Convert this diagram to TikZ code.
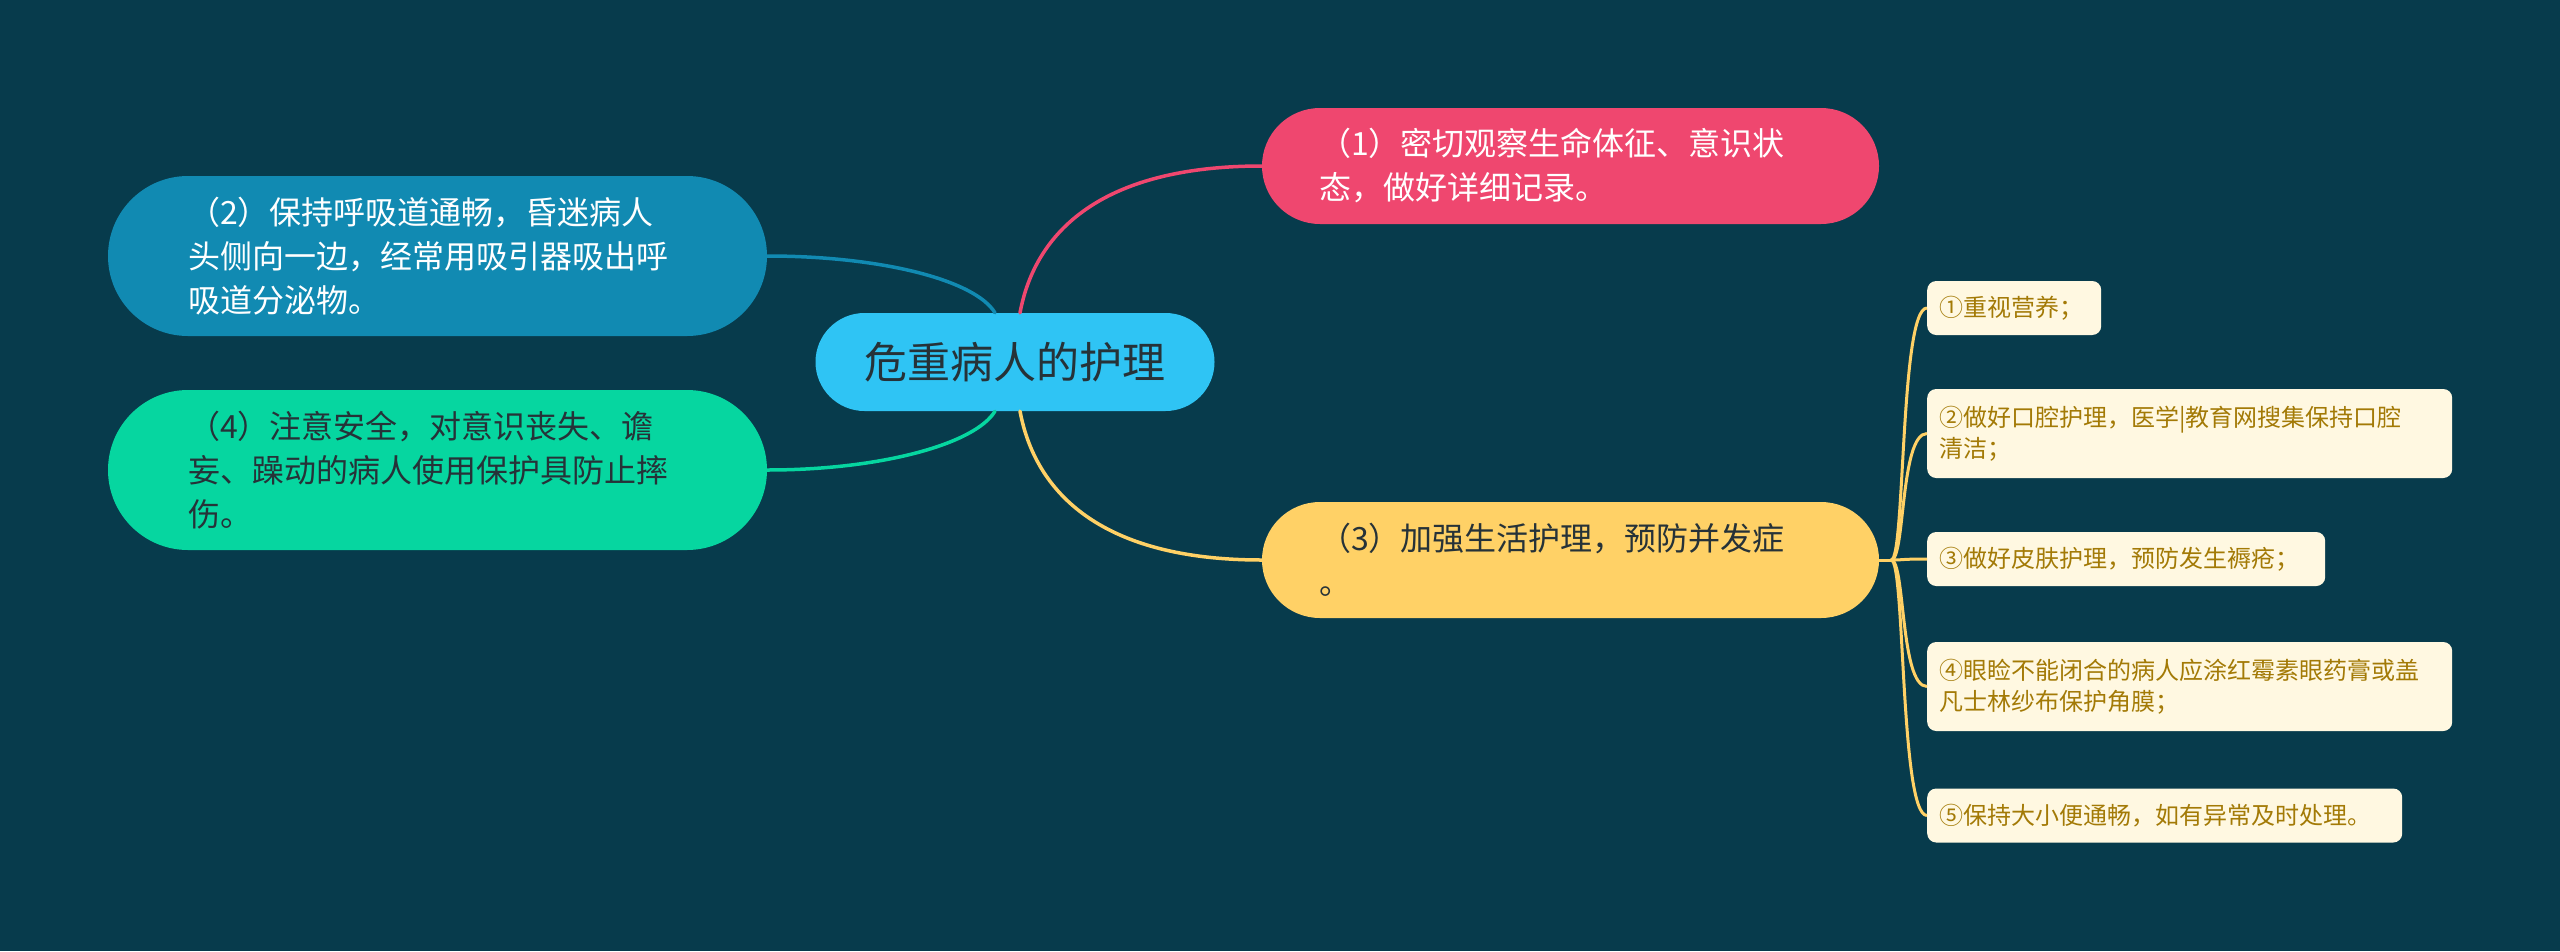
\documentclass[tikz,border=0pt]{standalone}
\usepackage{fontspec}
\setmainfont{Noto Sans CJK SC}
\usetikzlibrary{calc}

\definecolor{bgcol}{HTML}{073B4C}
\definecolor{hubcol}{HTML}{2FC4F4}
\definecolor{pinkcol}{HTML}{EF476F}
\definecolor{bluecol}{HTML}{118AB2}
\definecolor{greencol}{HTML}{06D6A0}
\definecolor{yellowcol}{HTML}{FFD166}
\definecolor{leaffill}{HTML}{FFF8E1}
\definecolor{leaftext}{HTML}{A37A06}
\definecolor{darktext}{HTML}{263238}

\begin{document}
\begin{tikzpicture}[x=1pt, y=-1pt,
	hub/.style={fill=hubcol, text=darktext, rounded corners=49pt, minimum width=399pt, minimum height=98pt, font=\fontsize{43}{50}\selectfont},
	branch/.style={align=left, inner ysep=0pt, font=\fontsize{32}{44}\selectfont},
	shortbranch/.style={branch, text width=503pt, inner xsep=57pt, minimum height=116pt, rounded corners=58pt},
	tallbranch/.style={branch, text width=499pt, inner xsep=80pt, minimum height=160pt, rounded corners=80pt},
	leaf/.style={fill=leaffill, text=leaftext, anchor=west, align=left, inner xsep=12pt, inner ysep=0pt, rounded corners=9pt, font=\fontsize{24}{31}\selectfont},
	link/.style={line width=3.5pt, line cap=round},
	twig/.style={line width=3pt, yellowcol}]
	\fill[bgcol] (0,0) rectangle (2560,951);

	% main topic and its four branches
	\node[hub] (hub) at (1015,362) {危重病人的护理};
	\node[shortbranch, fill=pinkcol, text=white] (n1) at (1570.5,166) {（1）密切观察生命体征、意识状\\态，做好详细记录。};
	\node[tallbranch, fill=bluecol, text=white] (n2) at (437.5,256) {（2）保持呼吸道通畅，昏迷病人\\头侧向一边，经常用吸引器吸出呼\\吸道分泌物。};
	\node[shortbranch, fill=yellowcol, text=darktext] (n3) at (1570.5,560) {（3）加强生活护理，预防并发症\\。};
	\node[tallbranch, fill=greencol, text=darktext] (n4) at (437.5,470) {（4）注意安全，对意识丧失、谵\\妄、躁动的病人使用保护具防止摔\\伤。};

	\draw[link, pinkcol] ($(hub.north)+(5,0)$) .. controls +(10,-53) and +(-192,0) .. (n1.west);
	\draw[link, bluecol] ($(hub.north)+(-20,0)$) .. controls +(-20,-33) and +(113,0) .. (n2.east);
	\draw[link, yellowcol] ($(hub.south)+(5,0)$) .. controls +(10,53) and +(-192,0) .. (n3.west);
	\draw[link, greencol] ($(hub.south)+(-20,0)$) .. controls +(-20,33) and +(113,0) .. (n4.east);

	% sub items of (3)
	\node[leaf, text width=150pt, minimum height=54pt] (l1) at (1927,308) {①重视营养；};
	\node[leaf, text width=501pt, minimum height=89pt] (l2) at (1927,433.5) {②做好口腔护理，医学|教育网搜集保持口腔\\清洁；};
	\node[leaf, text width=374pt, minimum height=54pt] (l3) at (1927,559) {③做好皮肤护理，预防发生褥疮；};
	\node[leaf, text width=501pt, minimum height=89pt] (l4) at (1927,686.5) {④眼睑不能闭合的病人应涂红霉素眼药膏或盖\\凡士林纱布保护角膜；};
	\node[leaf, text width=451pt, minimum height=54pt] (l5) at (1927,815.5) {⑤保持大小便通畅，如有异常及时处理。};

	\draw[twig] (n3.east) -- ++(12,0) coordinate (fork);
	\foreach \l in {l1,l2,l3,l4,l5}
		\draw[twig] (fork) .. controls +(14,0) and +(-27,0) .. (\l.west);
\end{tikzpicture}
\end{document}
